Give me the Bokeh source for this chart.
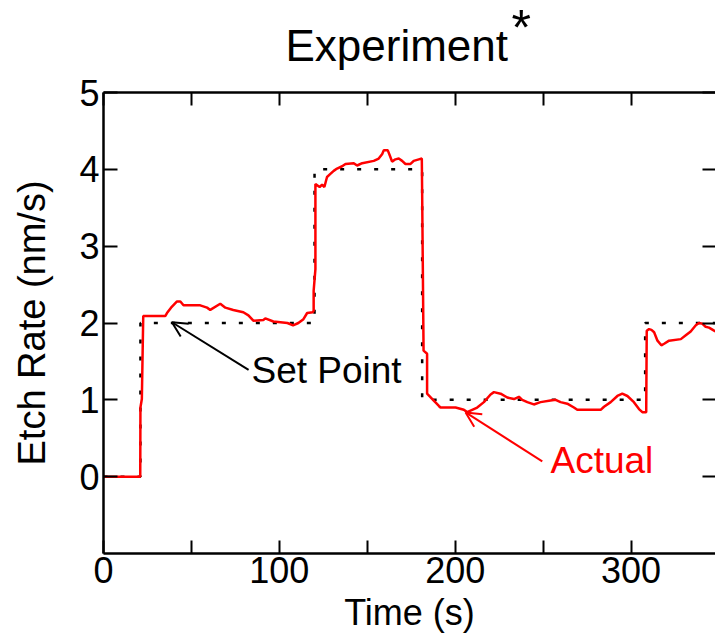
from bokeh.plotting import figure
from bokeh.layouts import column
from bokeh.models import LinearAxis, FixedTicker, Label, Arrow, OpenHead, Range1d
from bokeh.core.properties import value
from bokeh.embed import file_html
from bokeh.resources import INLINE

# ---------------- data ----------------
# set point: level changes (time, value), drawn as a step curve
sp_time = [0, 21, 120, 181.2, 308, 348]
sp_value = [0, 2, 4, 1, 2, 2]

# measured etch rate
act_time = [0, 20.9, 21.0, 21.8, 22.6, 35.1, 36.1, 38.4, 41.8, 43.7, 45.5, 55.0,
            58.9, 60.7, 66.4, 69.3, 73.8, 79.5, 82.4, 85.2, 90.9, 92.0, 96.6,
            100.6, 104.6, 107.8, 110.8, 113.7, 115.8, 119.0, 119.5, 119.5, 120.5,
            120.5, 122.9, 124.3, 125.6, 127.1, 129.0, 130.9, 132.8, 135.7, 137.6,
            142.3, 144.2, 147.1, 153.7, 156.5, 158.5, 159.4, 161.6, 162.8, 164.1,
            166.0, 167.9, 169.8, 171.7, 174.6, 176.4, 179.3, 181.0, 181.2, 182.0,
            184.0, 184.0, 187.8, 190.7, 191.6, 200.2, 204.9, 206.8, 212.5, 216.3,
            220.1, 222.0, 225.8, 229.6, 233.4, 236.2, 238.1, 241.0, 244.7, 248.5,
            254.2, 257.1, 259.9, 263.7, 267.5, 269.4, 282.7, 284.6, 288.4, 292.2,
            295.0, 297.9, 301.6, 304.5, 306.4, 308.6, 308.9, 310.2, 311.6, 313.1,
            315.0, 317.2, 318.8, 321.6, 328.3, 331.1, 333.9, 336.8, 338.6, 340.6,
            342.4, 344.3, 347.2, 348.0]
act_value = [0, 0, 0.90, 1.01, 2.09, 2.09, 2.13, 2.20, 2.28, 2.28, 2.23, 2.23,
             2.20, 2.17, 2.25, 2.20, 2.17, 2.14, 2.10, 2.03, 2.04, 2.06, 2.02,
             2.01, 2.00, 1.97, 2.00, 2.05, 2.13, 2.14, 2.16, 2.42, 2.70,
             3.81, 3.77, 3.80, 3.77, 3.90, 3.94, 3.98, 4.01, 4.04, 4.07,
             4.08, 4.05, 4.08, 4.11, 4.14, 4.20, 4.25, 4.25, 4.18, 4.10,
             4.13, 4.14, 4.11, 4.07, 4.07, 4.11, 4.13, 4.14, 3.68, 1.64,
             1.60, 1.08, 0.99, 0.92, 0.90, 0.90, 0.87, 0.84, 0.90, 0.97,
             1.07, 1.10, 1.08, 1.03, 1.01, 1.04, 1.00, 0.97, 0.94, 0.97,
             0.99, 1.00, 0.97, 0.95, 0.90, 0.87, 0.87, 0.91, 0.97, 1.05,
             1.08, 1.05, 0.97, 0.88, 0.84, 0.84, 1.90, 1.92, 1.91, 1.88,
             1.77, 1.71, 1.73, 1.77, 1.79, 1.84, 1.89, 1.97, 2.00, 1.99,
             1.95, 1.94, 1.90, 1.89]

x_ticks = [0, 50, 100, 150, 200, 250, 300, 350]
x_tick_labels = {0: "0", 50: "", 100: "100", 150: "", 200: "200", 250: "",
                 300: "300", 350: ""}
y_ticks = [0, 1, 2, 3, 4, 5]

title_text = "Experiment"
title_mark = "*"
x_label = "Time (s)"
y_label = "Etch Rate (nm/s)"
setpoint_note = "Set Point"
actual_note = "Actual"
# arrow (tail -> head) in data units
sp_arrow = (82.5, 1.39, 38.9, 2.01)
act_arrow = (249.5, 0.20, 205.9, 0.836)

FONT = "Liberation Sans"
W = 715
TITLE_H = 74
FRAME_LEFT = 103
FRAME_TOP = 92  # page y of the plot frame's top edge

# ---------------- title strip (pixel-like coordinates) ----------------
t = figure(width=W, height=TITLE_H, x_range=Range1d(FRAME_LEFT, W),
           y_range=Range1d(TITLE_H, 0), output_backend="svg", toolbar_location=None,
           min_border=0, min_border_left=0, min_border_right=0,
           min_border_top=0, min_border_bottom=0)
t.axis.visible = False
t.grid.visible = False
t.outline_line_color = None
t.text(x=[285], y=[45], text=[title_text], text_font=value(FONT),
       text_font_size="44px", text_color="black", text_align="left",
       text_baseline="alphabetic")
t.text(x=[511], y=[27], text=[title_mark], text_font=value(FONT),
       text_font_size="50px", text_color="black", text_align="left",
       text_baseline="alphabetic")

# ---------------- main plot ----------------
p = figure(width=W, height=635 - TITLE_H, x_range=Range1d(0, 348),
           y_range=Range1d(-1, 5), output_backend="svg", toolbar_location=None,
           min_border_left=FRAME_LEFT, min_border_right=0,
           min_border_top=FRAME_TOP - TITLE_H, min_border_bottom=82)
p.outline_line_color = None
p.xgrid.visible = False
p.ygrid.visible = False


def style_axis(ax, ticks, tick_len, show_labels, overrides=None):
    ax.ticker = FixedTicker(ticks=ticks)
    ax.axis_line_color = "black"
    ax.axis_line_width = 2.5
    ax.major_tick_line_color = "black"
    ax.major_tick_line_width = 2
    ax.major_tick_in = tick_len
    ax.major_tick_out = 0
    ax.minor_tick_line_color = None
    ax.minor_tick_in = 0
    ax.minor_tick_out = 0
    if show_labels:
        ax.major_label_text_font = FONT
        ax.major_label_text_font_size = "36px"
        ax.major_label_text_color = "black"
        if overrides:
            ax.major_label_overrides = overrides
    else:
        ax.major_label_overrides = {tk: "" for tk in ticks}
        ax.major_label_text_font_size = "0px"
        ax.major_label_standoff = 0


bottom = p.below[0]
left = p.left[0]
style_axis(bottom, x_ticks, 13, True, x_tick_labels)
bottom.major_label_standoff = 3
bottom.axis_label = x_label
bottom.axis_label_text_font = FONT
bottom.axis_label_text_font_size = "36px"
bottom.axis_label_text_font_style = "normal"
bottom.axis_label_text_color = "black"
bottom.axis_label_standoff = 6

style_axis(left, y_ticks, 14, True)
left.major_label_standoff = 4
left.axis_label = y_label
left.axis_label_text_font = FONT
left.axis_label_text_font_size = "38px"
left.axis_label_text_font_style = "normal"
left.axis_label_text_color = "black"
left.axis_label_standoff = 23

top = LinearAxis()
style_axis(top, x_ticks, 13, False)
p.add_layout(top, "above")
right = LinearAxis()
style_axis(right, y_ticks, 13, False)
right.axis_line_color = None
p.add_layout(right, "right")

# set point (dotted) and actual (red)
p.step(sp_time, sp_value, mode="after", line_color="black", line_width=2.5,
       line_dash="4 13")
p.line(act_time, act_value, line_color="red", line_width=2.5)

# arrows
p.add_layout(Arrow(x_start=sp_arrow[0], y_start=sp_arrow[1], x_end=sp_arrow[2],
                   y_end=sp_arrow[3], line_color="black", line_width=2,
                   end=OpenHead(size=15, line_color="black", line_width=2)))
p.add_layout(Arrow(x_start=act_arrow[0], y_start=act_arrow[1], x_end=act_arrow[2],
                   y_end=act_arrow[3], line_color="red", line_width=2,
                   end=OpenHead(size=15, line_color="red", line_width=2)))

# annotation texts (screen units relative to frame bottom-left)
p.add_layout(Label(x=148, y=183, x_units="screen", y_units="screen",
                   text=setpoint_note, text_font=FONT, text_font_size="37px",
                   text_color="black", text_baseline="alphabetic"))
p.add_layout(Label(x=447, y=93, x_units="screen", y_units="screen",
                   text=actual_note, text_font=FONT, text_font_size="37px",
                   text_color="red", text_baseline="alphabetic"))

layout = column(t, p, spacing=0)
open("out.html", "w").write(file_html(layout, INLINE))
